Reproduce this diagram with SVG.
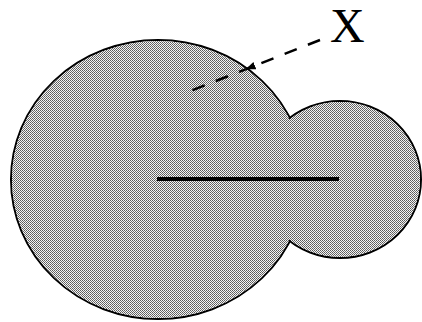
<svg xmlns="http://www.w3.org/2000/svg" width="422" height="322" viewBox="0 0 422 322">
  <defs>
    <pattern id="stipple" patternUnits="userSpaceOnUse" x="0" y="0" width="2" height="2">
      <rect width="2" height="2" fill="#f4f4f4"/>
      <rect x="0" y="0" width="1" height="1" fill="#5a5a5a"/>
      <rect x="1" y="1" width="1" height="1" fill="#6e6e6e"/>
    </pattern>
    <marker id="arrow" markerUnits="userSpaceOnUse" markerWidth="12" markerHeight="10" refX="10" refY="4" orient="auto">
      <path d="M0,0 L10,4 L0,8 Z" fill="#000"/>
    </marker>
  </defs>
  <style>
    .outline { fill: none; stroke: #000; stroke-width: 2; }
    .fill { fill: url(#stipple); stroke: none; }
    .dash { fill: none; stroke: #000; stroke-width: 2.5; stroke-dasharray: 13 12; }
    .axis { stroke: #000; stroke-width: 4; }
    .label { font-family: "Liberation Serif", "Times New Roman", serif; font-size: 48px; fill: #000; }
  </style>
  <g id="big-circle">
    <ellipse class="outline" cx="158" cy="179.5" rx="147" ry="139.5"/>
  </g>
  <g id="small-circle">
    <ellipse class="outline" cx="340" cy="179.5" rx="81" ry="78.5"/>
  </g>
  <g id="fills">
    <ellipse class="fill" cx="158" cy="179.5" rx="146" ry="138.5"/>
    <ellipse class="fill" cx="340" cy="179.5" rx="80" ry="77.5"/>
  </g>
  <g id="connectors">
    <line class="axis" x1="157" y1="179" x2="339" y2="179"/>
    <path class="dash" d="M320,40 L245.6,69.3" marker-end="url(#arrow)"/>
    <path class="dash" d="M245.6,69.3 L188,92" stroke-dashoffset="6"/>
  </g>
  <g id="label-x">
    <text class="label" x="330" y="42">X</text>
  </g>
</svg>
